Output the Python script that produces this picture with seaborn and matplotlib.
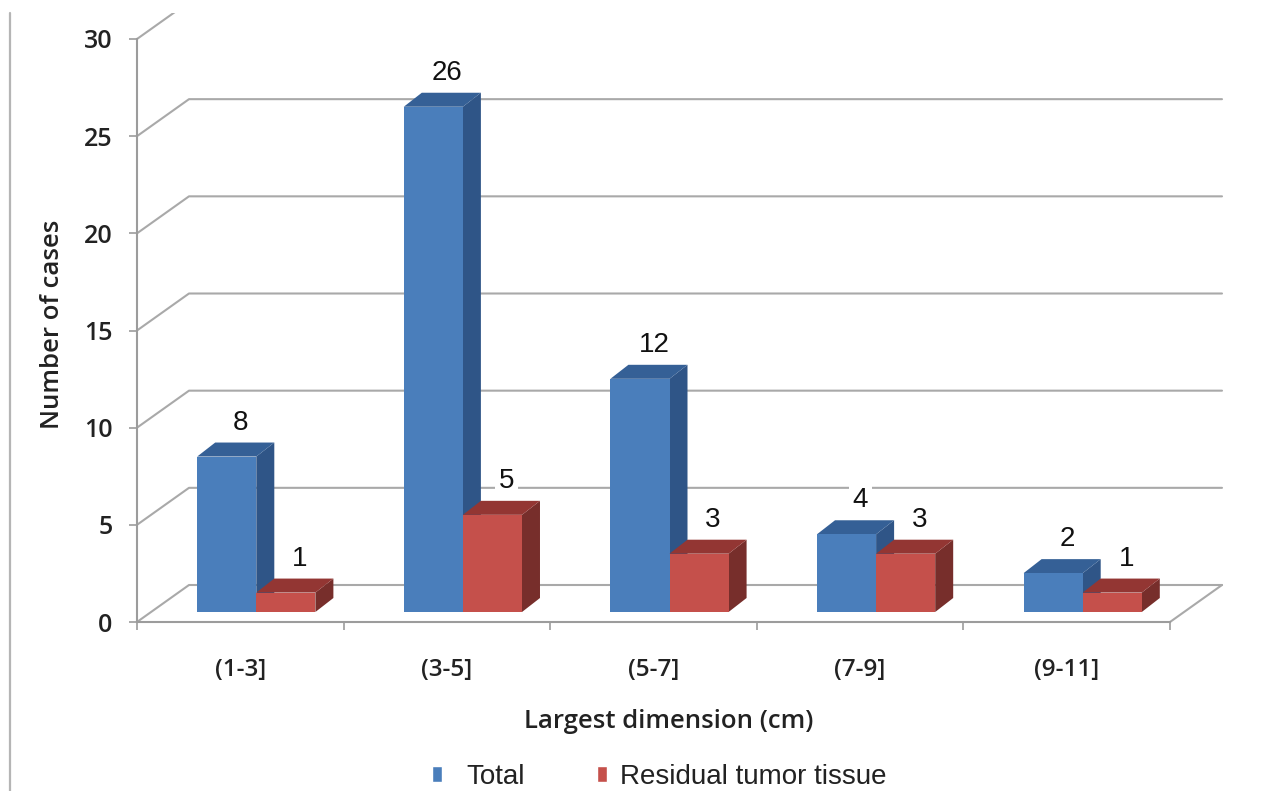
import matplotlib
matplotlib.use("Agg")
import matplotlib.pyplot as plt
import pandas as pd
import seaborn as sns
from matplotlib.lines import Line2D
from matplotlib.patches import Patch, Polygon, Rectangle

# Case counts per size range
size_ranges = ["(1-3]", "(3-5]", "(5-7]", "(7-9]", "(9-11]"]
total_cases = [8, 26, 12, 4, 2]
residual_cases = [1, 5, 3, 3, 1]
y_ticks = [0, 5, 10, 15, 20, 25, 30]

W, H = 1280, 791
GRID = "#a9a9a9"
AXIS = "#9c9c9c"
TEXT = "#222222"
FACE = {"Total": "#4a7ebb", "Residual tumor tissue": "#c5504b"}
SIDE = {"Total": "#2f5587", "Residual tumor tissue": "#772e2b"}
TOP = {"Total": "#356096", "Residual tumor tissue": "#933633"}
UI_FONT = "Open Sans"
LABEL_FONT = "Liberation Sans"

sns.set_theme(style="white")
plt.rcParams["font.family"] = [UI_FONT, "DejaVu Sans"]

df = pd.DataFrame({
    "range": size_ranges * 2,
    "series": ["Total"] * 5 + ["Residual tumor tissue"] * 5,
    "cases": total_cases + residual_cases,
})

fig = plt.figure(figsize=(W / 100, H / 100), dpi=100, facecolor="white")


def axes_px(left, right, bottom, top):
    """Axes placed by pixel edges, measured from the top-left corner."""
    return fig.add_axes([left / W, 1 - bottom / H, (right - left) / W, (bottom - top) / H])


# Front plane of the axis frame
X0, X1, Y0, Y30 = 137, 1170, 622, 39
ax = axes_px(X0, X1, Y0, Y30)
ax.set_xlim(-0.5, 4.5)
ax.set_ylim(0, 30)
ax.patch.set_visible(False)
px_x = (X1 - X0) / 5
px_y = (Y0 - Y30) / 30

# Back wall is offset from the front plane by a fixed depth
wall_dx, wall_dy = 52 / px_x, 37 / px_y
clip_top = Rectangle((0, 0), 1, 1 - 13 / H, transform=fig.transFigure)
for v in y_ticks:
    if v < 30:
        xs = [-0.5, -0.5 + wall_dx, 4.5 + wall_dx]
        ys = [v, v + wall_dy, v + wall_dy]
    else:
        xs = [-0.5, -0.5 + wall_dx]
        ys = [v, v + wall_dy]
    grid = Line2D(xs, ys, color=GRID, lw=1.5, clip_on=True, zorder=1)
    ax.add_line(grid)
    grid.set_clip_path(clip_top)
ax.add_line(Line2D([4.5, 4.5 + wall_dx], [0, wall_dy], color=GRID, lw=1.5, clip_on=False, zorder=1))

for name, spine in ax.spines.items():
    spine.set_visible(name in ("left", "bottom"))
    spine.set_color(AXIS)
    spine.set_linewidth(1.5)
ax.set_yticks(y_ticks)
ax.set_xticks([i - 0.5 for i in range(6)])
ax.set_xticklabels([])
ax.set_xticks(range(5), labels=size_ranges, minor=True)
ax.tick_params(axis="y", which="major", left=True, length=5.5, width=1.2, color=AXIS,
               labelsize=18, labelcolor=TEXT, pad=12)
ax.tick_params(axis="x", which="major", bottom=True, length=6, width=1.2, color=AXIS)
ax.tick_params(axis="x", which="minor", bottom=False, labelsize=17.5, labelcolor=TEXT, pad=22)
for label in ax.get_yticklabels() + ax.get_xticklabels(minor=True):
    label.set_fontweight("semibold")
ax.set_ylabel("Number of cases", fontsize=18.5, color=TEXT, fontweight="semibold")
ax.yaxis.set_label_coords((65 - X0) / (X1 - X0), (Y0 - 324) / (Y0 - Y30))
ax.set_xlabel("Largest dimension (cm)", fontsize=18.5, color=TEXT, fontweight="semibold")
ax.xaxis.set_label_coords((669 - X0) / (X1 - X0), -(721 - Y0) / (Y0 - Y30))
ax.xaxis.label.set_va("center")

# Bars sit on a plane nudged inwards from the frame
bar_ax = axes_px(X0 + 16, X1 + 16, Y0 - 10, Y30 - 10)
sns.barplot(data=df, x="range", y="cases", hue="series", order=size_ranges,
            hue_order=list(FACE), palette=FACE, width=0.572, gap=0, saturation=1,
            legend=False, ax=bar_ax)
bar_ax.set_xlim(-0.5, 4.5)
bar_ax.set_ylim(0, 30)
bar_ax.axis("off")

depth_x, depth_y = 18 / px_x, 14 / px_y
z = 3
for container, series in zip(bar_ax.containers, FACE):
    for rect in container:
        x, w, h = rect.get_x(), rect.get_width(), rect.get_height()
        rect.set_linewidth(0)
        rect.set_zorder(z + 1)
        bar_ax.add_patch(Polygon(
            [(x + w, 0), (x + w + depth_x, depth_y), (x + w + depth_x, h + depth_y), (x + w, h)],
            closed=True, fc=SIDE[series], ec="none", zorder=z))
        bar_ax.add_patch(Polygon(
            [(x, h), (x + depth_x, h + depth_y), (x + w + depth_x, h + depth_y), (x + w, h)],
            closed=True, fc=TOP[series], ec="none", zorder=z))
        # White backing breaks the gridline behind the number
        bar_ax.annotate(f"{h:.0f}", xy=(x + w / 2, h), xytext=(14, 34),
                        textcoords="offset pixels", ha="center", va="center",
                        fontsize=20, color="#111111", family=LABEL_FONT, zorder=20,
                        annotation_clip=False,
                        bbox=dict(fc="white", ec="none", boxstyle="square,pad=0.12"))
    z += 2

# Rule down the left edge of the panel
fig.add_artist(Line2D([10 / W, 10 / W], [0, 1 - 13 / H], color="#b5b5b5", lw=1.6))

# The two legend entries are spaced unevenly, so each gets its own legend
for series, left, text_pad in [("Total", 432, 0.86), ("Residual tumor tissue", 597, 0.47)]:
    fig.legend(
        handles=[Patch(fc=FACE[series], label=series)],
        loc="lower left", bbox_to_anchor=(left / W, 1 / H), frameon=False,
        borderaxespad=0, borderpad=0,
        prop={"family": LABEL_FONT, "size": 20},
        handlelength=0.36, handleheight=0.5, handletextpad=text_pad,
        labelcolor=TEXT,
    )

fig.savefig("out.png", dpi=100, facecolor="white")
